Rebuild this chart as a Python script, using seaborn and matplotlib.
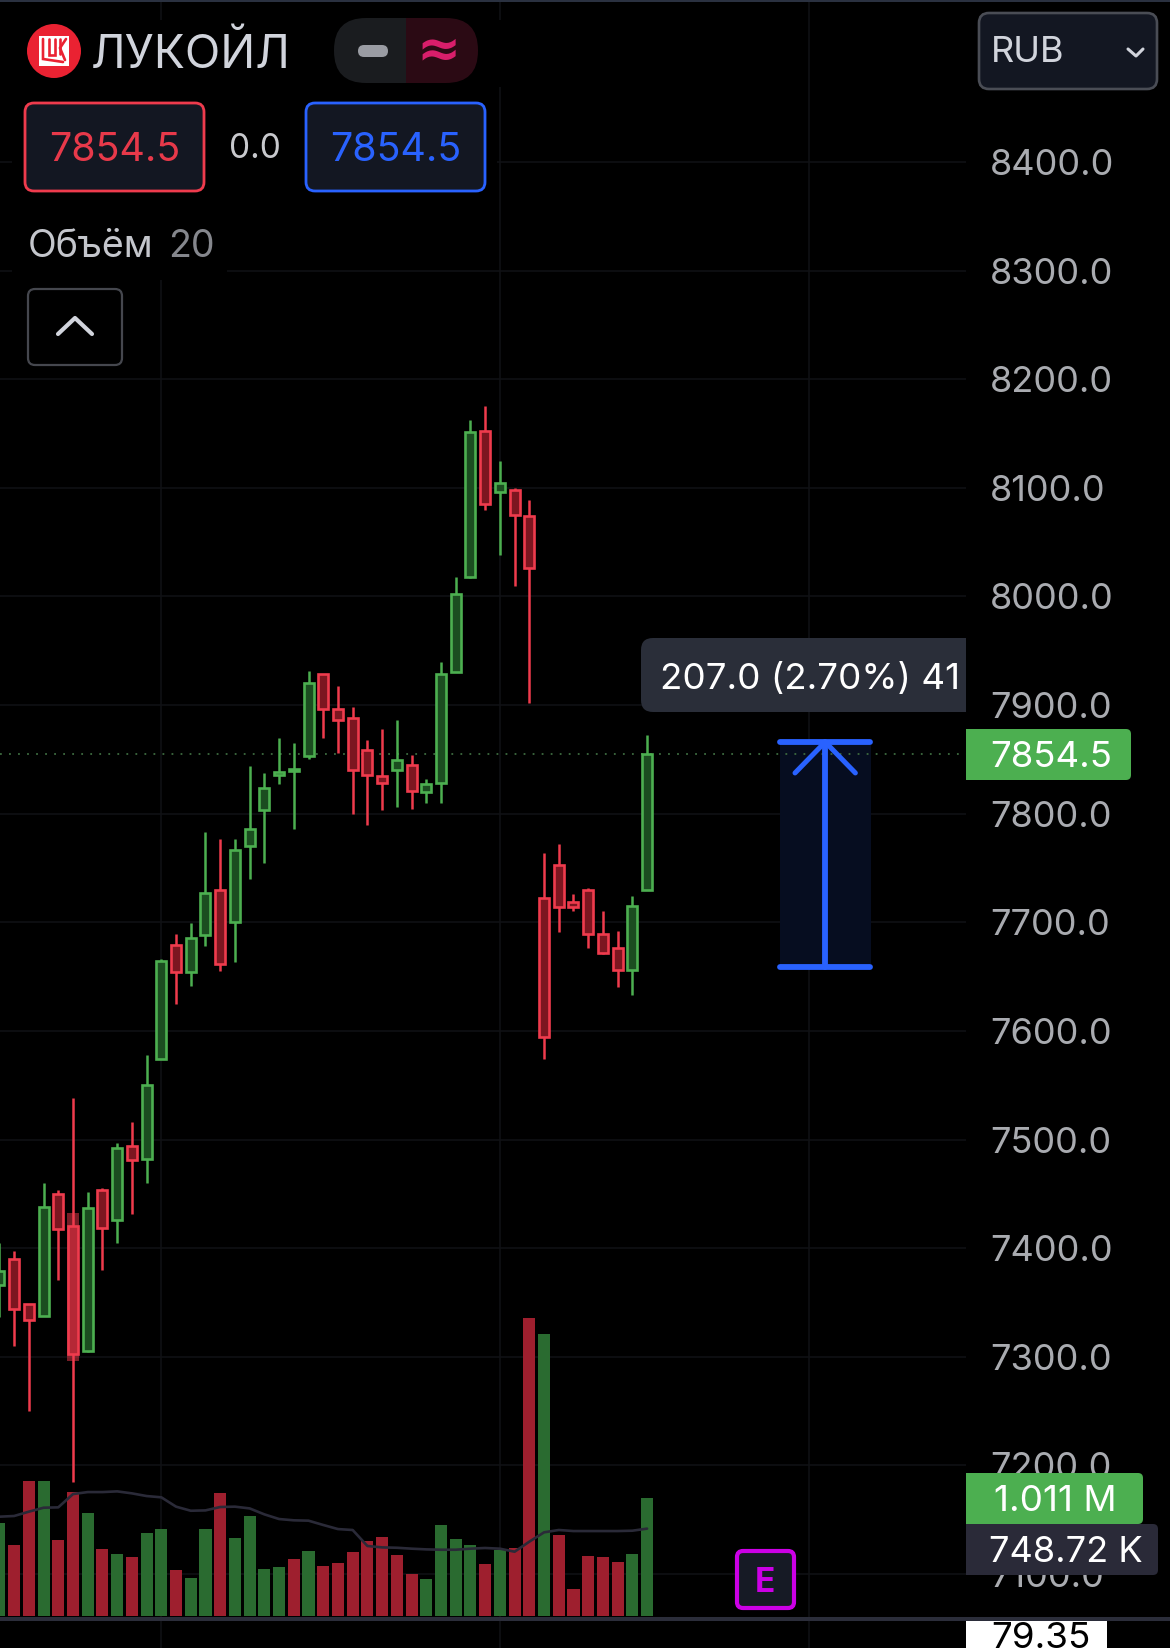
#!/usr/bin/env python3
"""Lukoil candlestick screen with volume pane and measure arrow."""

import matplotlib.pyplot as plt
import pandas as pd
import seaborn as sns
from matplotlib.patches import Circle, FancyBboxPatch, Rectangle

plt.switch_backend("Agg")

opens = [7366, 7390, 7349, 7338, 7450, 7420, 7305, 7454, 7426, 7494, 7482, 7574, 7679, 7654, 7688,
         7730, 7700, 7770, 7803, 7836, 7839, 7853, 7929, 7896, 7888, 7859, 7835, 7840, 7845, 7820,
         7828, 7930, 8018, 8152, 8096, 8098, 8074, 7722, 7753, 7719, 7730, 7689, 7676, 7656, 7730]
highs = [7405, 7397, 7349, 7460, 7454, 7538, 7452, 7455, 7497, 7516, 7578, 7666, 7689, 7699, 7783,
         7777, 7777, 7844, 7837, 7870, 7865, 7931, 7929, 7918, 7898, 7868, 7878, 7886, 7854, 7832,
         7940, 8018, 8162, 8175, 8125, 8100, 8089, 7764, 7772, 7726, 7732, 7710, 7692, 7724, 7872]
lows = [7337, 7310, 7250, 7338, 7371, 7185, 7304, 7380, 7405, 7431, 7460, 7574, 7625, 7641, 7678,
        7655, 7663, 7740, 7755, 7827, 7786, 7850, 7870, 7856, 7800, 7790, 7803, 7806, 7804, 7810,
        7810, 7930, 8017, 8080, 8038, 8010, 7902, 7574, 7691, 7710, 7676, 7671, 7640, 7633, 7730]
closes = [7379, 7344, 7334, 7438, 7418, 7303, 7437, 7419, 7492, 7481, 7550, 7664, 7654, 7686, 7727,
          7662, 7767, 7786, 7824, 7838, 7841, 7920, 7896, 7886, 7840, 7836, 7828, 7849, 7821, 7827,
          7929, 8002, 8151, 8085, 8104, 8075, 8026, 7594, 7714, 7714, 7689, 7672, 7656, 7715, 7854.5]

volumes = [794, 608, 1154, 1154, 651, 1065, 880, 574, 531, 505, 711, 745, 391, 326, 745, 1054, 668,
           857, 403, 420, 488, 557, 428, 454, 548, 643, 677, 523, 360, 317, 780, 660, 608, 446, 565,
           580, 2550, 2416, 694, 231, 514, 505, 463, 531, 1011]
volume_sides = ["up", "down", "down", "up", "down", "down", "up", "down", "up", "down", "up", "up",
                "down", "up", "up", "down", "up", "up", "up", "up", "down", "up", "down", "down",
                "down", "down", "down", "down", "down", "up", "up", "up", "up", "down", "up", "down",
                "down", "up", "down", "down", "down", "down", "down", "up", "up"]
volume_ma = [851, 857, 894, 928, 931, 1045, 1062, 1062, 1068, 1051, 1028, 1017, 937, 902, 905, 934,
             937, 922, 871, 831, 820, 817, 780, 745, 737, 600, 588, 585, 577, 571, 568, 568, 577,
             583, 577, 551, 637, 717, 737, 728, 728, 728, 728, 731, 748.72]

price_ticks = [8400, 8300, 8200, 8100, 8000, 7900, 7800, 7700, 7600, 7500, 7400, 7300, 7200, 7100]
time_grid = [11, 34, 55]
last_price = 7854.5
measure_low, measure_high = 7659, 7866
ghost_low, ghost_high = 7296, 7432

GREEN, RED, BLUE = "#4caf50", "#ef3b4d", "#2962ff"
FONT = ["Inter", "DejaVu Sans"]

sns.set_style("dark", rc={"axes.facecolor": "black", "figure.facecolor": "black"})
plt.rcParams["font.family"] = FONT

W, H = 1170, 1648
fig = plt.figure(figsize=(W / 100, H / 100), dpi=100)
ax = fig.add_axes([0, 0, 966 / W, 1])

candles = pd.DataFrame({"open": opens, "high": highs, "low": lows, "close": closes})
candles["rising"] = candles.close >= candles.open
edge = candles.rising.map({True: GREEN, False: RED})
fill = candles.rising.map({True: "#1b4d20", False: "#7c1620"})

# wicks first so the bodies hide them
ax.vlines(candles.index, candles.low, candles.high, colors=edge, linewidth=1.8, zorder=3)
ax.bar(candles.index, candles.close - candles.open, bottom=candles.open, width=0.68, color=fill,
       edgecolor=edge, linewidth=1.9, zorder=4)
ax.bar(5, ghost_high - ghost_low, bottom=ghost_low, width=0.76, color=RED, alpha=0.5, linewidth=0,
       zorder=5)

ax.axhline(last_price, color="#3d6b40", linewidth=1.3, linestyle=(0, (1, 4)), zorder=2)

# measure tool
measure_x = 56.1
ax.bar(measure_x, measure_high - measure_low, bottom=measure_low, width=6.18, color="#060d20",
       linewidth=0, zorder=1.5)
for level in (measure_low, measure_high):
    ax.plot([measure_x - 3.05, measure_x + 3.05], [level, level], color=BLUE, linewidth=4.2,
            solid_capstyle="round", zorder=6)
ax.plot([measure_x, measure_x], [measure_low, measure_high], color=BLUE, linewidth=4.2, zorder=6)
ax.plot([measure_x - 2.05, measure_x, measure_x + 2.05],
        [measure_high - 28.5, measure_high, measure_high - 28.5], color=BLUE, linewidth=3.6,
        solid_capstyle="round", zorder=6)

# volume pane sits on the same x scale, scaled to the bottom of the screen
volume_frame = pd.DataFrame({"bar": range(len(volumes)), "volume": volumes, "side": volume_sides})
vol = ax.twinx()
sns.barplot(data=volume_frame, x="bar", y="volume", hue="side", dodge=False, native_scale=True,
            palette={"up": "#2a6b30", "down": "#9e1f2e"}, saturation=1, width=0.82, linewidth=0,
            legend=False, ax=vol)
sns.lineplot(x=volume_frame.bar, y=volume_ma, color="#2a2a38", linewidth=1.9, ax=vol, zorder=5)
vol.set(xlabel="", ylabel="", yticks=[])
vol.set_ylim(-274, 13846)
vol.grid(False)
vol.patch.set_visible(False)
for spine in vol.spines.values():
    spine.set_visible(False)

# twinx moves the price labels to the left, so the scale is set up after it
ax.set_xticks(time_grid)
ax.set_yticks(price_ticks)
ax.set_yticklabels([f"{tick:.1f}" for tick in price_ticks])
ax.yaxis.tick_right()
ax.tick_params(axis="y", length=0, pad=17.5, labelsize=26, labelcolor="#a9abb0")
ax.tick_params(axis="x", length=0, labelbottom=False)
ax.grid(True, color="#101115", linewidth=1.1)
ax.set_axisbelow(True)
for spine in ax.spines.values():
    spine.set_visible(False)

ax.set_xlim(0.6 / 14.72, 966.6 / 14.72)
ax.set_ylim(7031.9, 8549.1)
ax.set_xlabel("")
ax.set_ylabel("")

# screen furniture, in screen pixels
ui = fig.add_axes([0, 0, 1, 1])
ui.set_xlim(0, W)
ui.set_ylim(H, 0)
ui.axis("off")


def box(x0, y0, x1, y1, radius, face, line="none", width=0.0, clip=None):
    patch = FancyBboxPatch((x0 + radius, y0 + radius), x1 - x0 - 2 * radius, y1 - y0 - 2 * radius,
                           boxstyle=f"round,pad={radius}", facecolor=face, edgecolor=line,
                           linewidth=width)
    ui.add_patch(patch)
    if clip:
        patch.set_clip_path(Rectangle((clip[0], 0), clip[1] - clip[0], H, transform=ui.transData))
    return patch


def label(x, y, text, size, color, **kwargs):
    return ui.text(x, y, text, fontsize=size, color=color, ha=kwargs.pop("ha", "left"),
                   va="baseline", **kwargs)


# mask the grid behind the header
ui.add_patch(Rectangle((12, 20), 485, 185, facecolor="black", linewidth=0))
ui.add_patch(Rectangle((12, 205), 215, 75, facecolor="black", linewidth=0))
ui.add_patch(Rectangle((497, 20), 8, 67, facecolor="black", linewidth=0))

ui.add_patch(Rectangle((0, 0), W, 2, facecolor="#2a3140", linewidth=0))
ui.add_patch(Rectangle((0, 1617), W, 4, facecolor="#2b2d3a", linewidth=0))

# logo
ui.add_patch(Circle((54, 51), 27, facecolor="#ea2232", linewidth=0))
ui.add_patch(Rectangle((38.5, 35.5), 30.5, 30.5, facecolor="white", linewidth=0))
for xs, ys in [([43, 43, 63], [39, 59, 62]), ([49, 49, 55, 55], [39, 55, 55, 39]),
               ([60, 60], [39, 54]), ([66, 60, 65], [39, 48, 60])]:
    ui.plot(xs, ys, color="#ea2232", linewidth=1.9, solid_joinstyle="miter")
label(91, 68, "ЛУКОЙЛ", 33.3, "#d1d4dc")

# mode pill
box(334, 18, 500, 83, 32, "#1a1c1f", clip=(300, 406))
box(280, 18, 478, 83, 32, "#2b0a14", clip=(406, 500))
box(358, 45, 388, 57, 6, "#9a9ca3")
ui.text(439, 50, "≈", fontsize=38, color="#d81e6b", ha="center", va="center", fontweight="bold",
        family="DejaVu Sans")

# bid and ask
box(25, 103, 204, 191, 9, "#131722", RED, 2.0)
box(306, 103, 485, 191, 9, "#131722", BLUE, 2.0)
label(49, 161, "7854.5", 28.4, "#e8394a")
label(330, 161, "7854.5", 28.4, BLUE)
label(229, 158, "0.0", 24, "#c8c9cd")

label(28, 257, "Объём", 27, "#c4c6cc")
label(168, 257, "20", 27, "#85878d")

box(28, 289, 122, 365, 7, "none", "#45474e", 1.6)
ui.plot([58, 75, 92], [334, 318, 334], color="#d1d4dc", linewidth=3, solid_capstyle="round")

# currency picker
box(979, 13, 1157, 89, 10, "#131722", "#4a4d55", 1.9)
label(991, 62, "RUB", 26, "#d1d4dc")
ui.plot([1128, 1136, 1143], [49, 56, 49], color="#d1d4dc", linewidth=2.2, solid_capstyle="round")

# measure tooltip runs under the price scale
box(641, 638, 1000, 712, 12, "#2a2e39", clip=(600, 966))
label(660, 689, "207.0 (2.70%) 41", 26.5, "white")

# price and volume badges
box(900, 729, 1131, 780, 5, GREEN, clip=(966, W))
label(990, 767, "7854.5", 26.4, "white")
box(900, 1473, 1143, 1524, 5, GREEN, clip=(966, W))
label(994, 1511, "1.011 M", 26.5, "white")
box(900, 1524, 1158, 1575, 5, "#2a2a38", clip=(966, W))
label(989, 1562, "748.72 K", 26, "white")

# earnings marker
box(737, 1551, 794, 1608, 6, "#161a25", "#cc00e6", 3.0)
label(765, 1592, "E", 24, "#cc00e6", ha="center", fontweight="bold")

ui.add_patch(Rectangle((966, 1621), 141, 27, facecolor="white", linewidth=0))
label(991, 1648.5, "79.35", 26.5, "black")

fig.savefig("out.png", dpi=100, facecolor="black")
plt.close(fig)
